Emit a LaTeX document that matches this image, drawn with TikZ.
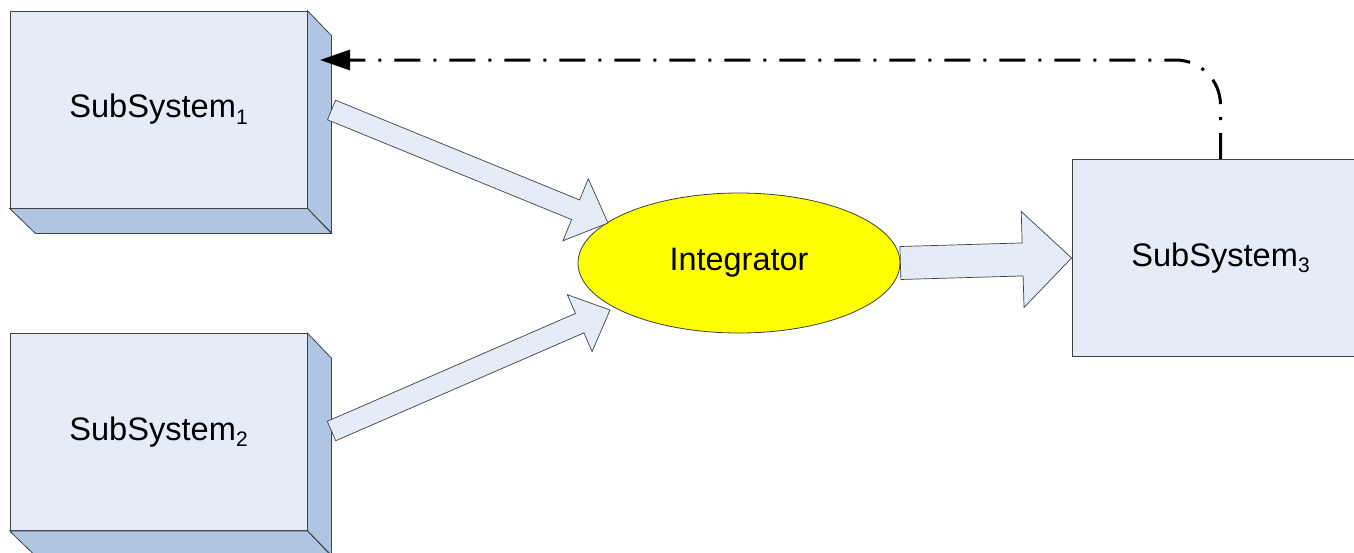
\documentclass[tikz,border=0pt]{standalone}
\usepackage{fontspec}
\setmainfont{Liberation Sans}
\usetikzlibrary{shapes.geometric,calc,arrows.meta}

\definecolor{facefill}{RGB}{230,236,247}
\definecolor{sidefill}{RGB}{176,196,228}
\definecolor{edgegray}{RGB}{64,64,64}
\definecolor{integfill}{RGB}{255,255,0}

% small lowered index digit
\newcommand\subidx[1]{\raisebox{-0.2em}{\fontsize{21}{21}\selectfont #1}}

% wide block arrow: #1 tail, #2 tip, #3 shaft half width, #4 head half width, #5 head length
\newcommand\blockarrow[5]{%
  \coordinate (hb) at ($(#2)!#5!(#1)$);
  \draw[blockstyle]
    ($(#1)!#3!90:(#2)$) -- ($(hb)!#3!90:(#2)$) -- ($(hb)!#4!90:(#2)$) --
    (#2) --
    ($(hb)!#4!-90:(#2)$) -- ($(hb)!#3!-90:(#2)$) -- ($(#1)!#3!-90:(#2)$) -- cycle;
}

\tikzset{
  face/.style={draw=edgegray, fill=facefill, line width=0.8pt, rectangle,
    minimum width=297pt, minimum height=197pt, inner sep=0pt,
    font=\fontsize{32.6}{38}\selectfont},
  sideface/.style={draw=edgegray, fill=sidefill, line width=0.8pt, line join=miter},
  integ/.style={draw=edgegray, fill=integfill, line width=0.8pt, ellipse,
    minimum width=322pt, minimum height=140pt, inner sep=0pt,
    font=\fontsize{32.4}{38}\selectfont},
  blockstyle/.style={draw=edgegray, fill=facefill, line width=0.7pt, line join=miter},
  feedback/.style={line width=3pt, dash pattern=on 26pt off 13pt on 3pt off 13pt,
    rounded corners=45pt, -{Triangle[length=30pt,width=20pt]}}
}

\begin{document}
\begin{tikzpicture}[x=1pt,y=-1pt]
  \useasboundingbox (0,0) rectangle (1354,552);
  \fill[white] (0,0) rectangle (1354,552);
  \clip (0,0) rectangle (1354,552);

  % three subsystems
  \node[face] (s1) at (158.5,109.5) {SubSystem\subidx{1}};
  \node[face] (s2) at (158.5,432) {SubSystem\subidx{2}};
  \node[face] (s3) at (1220.5,258) {SubSystem\subidx{3}};

  % depth faces of the raised blocks
  \foreach \b in {s1,s2}{
    \draw[sideface] (\b.north east) -- ++(24,25) -- ++(0,197) -- (\b.south east) -- cycle;
    \draw[sideface] (\b.south west) -- (\b.south east) -- ++(24,25) -- ++(-296,0) -- cycle;
  }

  % integrator
  \node[integ] (int) at (739,263) {Integrator};

  % data flow arrows
  \coordinate (t1) at (331.5,110);
  \coordinate (p1) at (608,223);
  \coordinate (t2) at (331.5,431);
  \coordinate (p2) at (610,310);
  \coordinate (t3) at (int.east);
  \coordinate (p3) at (s3.west);
  \blockarrow{t1}{p1}{10.6pt}{33.5pt}{35pt}
  \blockarrow{t2}{p2}{10.6pt}{31pt}{33pt}
  \blockarrow{t3}{p3}{16.5pt}{48pt}{49pt}

  % feedback path
  \coordinate (fbend) at (320,60);
  \draw[feedback] (s3.north) |- (fbend);
\end{tikzpicture}
\end{document}
